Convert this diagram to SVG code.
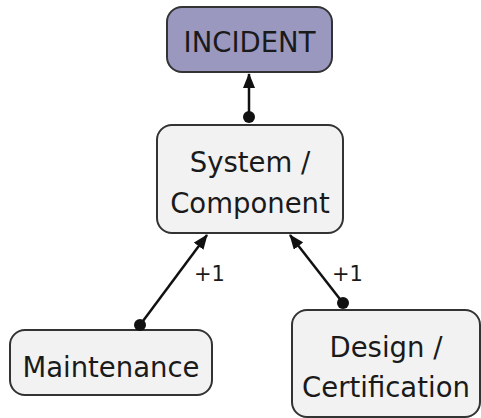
<svg xmlns="http://www.w3.org/2000/svg" width="481" height="418" viewBox="0 0 481 418">
<style>
.box{fill:#f2f2f2;stroke:#333;stroke-width:2}
.inc{fill:#9b98c0;stroke:#333;stroke-width:2}
text{font-family:"DejaVu Sans",Verdana,sans-serif;fill:#1a1a1a;text-anchor:middle}
.t{font-size:27.5px}
.l{font-size:21px;text-anchor:start}
.c{stroke:#111;stroke-width:2.5;fill:none;marker-end:url(#arr)}
</style>
<defs>
<marker id="arr" markerWidth="15" markerHeight="12" refX="14" refY="6" orient="auto" markerUnits="userSpaceOnUse" viewBox="0 0 15 12">
<path d="M0,0 L15,6 L0,12 z" fill="#111"/>
</marker>
</defs>
<g id="incident">
<rect class="inc" x="167" y="7" width="165" height="65" rx="15"/>
<text class="t" x="249.5" y="52">INCIDENT</text>
</g>
<g id="system">
<rect class="box" x="157" y="125" width="186" height="108" rx="15"/>
<text class="t" x="250" y="172">System /</text>
<text class="t" x="250" y="213">Component</text>
</g>
<g id="maintenance">
<rect class="box" x="10" y="330" width="202" height="65" rx="15"/>
<text class="t" x="111" y="377">Maintenance</text>
</g>
<g id="design">
<rect class="box" x="292" y="310" width="188" height="107" rx="15"/>
<text class="t" x="386" y="357">Design /</text>
<text class="t" x="386" y="397">Certification</text>
</g>
<g id="connectors">
<line class="c" x1="249" y1="117" x2="249" y2="74"/>
<circle cx="249" cy="117" r="6" fill="#111"/>
<line class="c" x1="140" y1="325" x2="207" y2="235"/>
<circle cx="140" cy="325" r="6" fill="#111"/>
<text class="l" x="194" y="281">+1</text>
<line class="c" x1="343" y1="303" x2="290" y2="235"/>
<circle cx="343" cy="303" r="6" fill="#111"/>
<text class="l" x="332" y="281">+1</text>
</g>
</svg>
